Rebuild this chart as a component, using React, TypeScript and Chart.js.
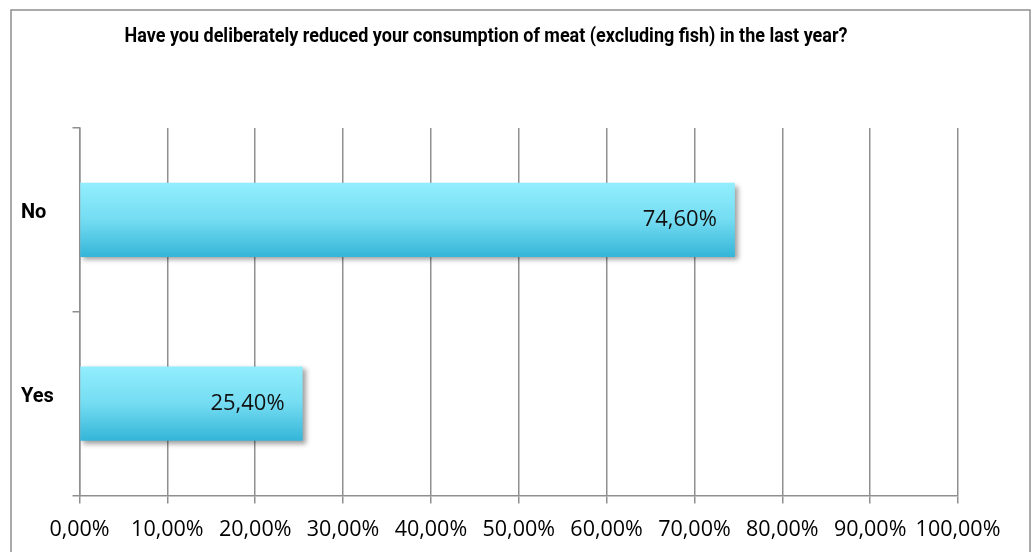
import React, { useEffect, useRef } from "react";
import { Chart, registerables } from "chart.js";

Chart.register(...registerables);

// Survey answers and their shares (percent)
const categories = ["No", "Yes"];
const shares = [74.6, 25.4];
const titleText =
  "Have you deliberately reduced your consumption of meat (excluding fish) in the last year?";
const axisMin = 0;
const axisMax = 100;
const axisStep = 10;

const BOLD = "Roboto, 'Liberation Sans', sans-serif";
const REGULAR = "'Open Sans', 'Noto Sans', sans-serif";
const GRID = "#8f8f8f";
const BAR_RATIO = 0.405;
const TITLE_WIDTH = 723;

const fmtPct = (v: number) => v.toFixed(2).replace(".", ",") + "%";

// Frame around the whole chart and a condensed title line
const framePlugin = {
  id: "frame",
  beforeDraw(chart: any) {
    const ctx = chart.ctx;
    ctx.save();
    ctx.fillStyle = "#ffffff";
    ctx.fillRect(0, 0, chart.width, chart.height);
    ctx.strokeStyle = GRID;
    ctx.lineWidth = 1.5;
    ctx.strokeRect(11, 10, 1019, chart.height + 20);
    ctx.fillStyle = "#000000";
    ctx.font = `bold 21px ${BOLD}`;
    ctx.textAlign = "center";
    ctx.textBaseline = "middle";
    const w = ctx.measureText(titleText).width;
    const sx = Math.min(1, TITLE_WIDTH / w);
    ctx.translate(486, 37);
    ctx.scale(sx, 1);
    ctx.fillText(titleText, 0, 0);
    ctx.restore();
  },
};

// Soft drop shadow behind the bars
const shadowPlugin = {
  id: "barShadow",
  beforeDatasetsDraw(chart: any) {
    const ctx = chart.ctx;
    ctx.save();
    ctx.shadowColor = "rgba(0,0,0,0.38)";
    ctx.shadowOffsetX = 3;
    ctx.shadowOffsetY = 3;
    ctx.shadowBlur = 5;
  },
  afterDatasetsDraw(chart: any) {
    chart.ctx.restore();
  },
};

// Value labels inside the end of each bar
const valueLabelPlugin = {
  id: "valueLabels",
  afterDatasetsDraw(chart: any) {
    const ctx = chart.ctx;
    const meta = chart.getDatasetMeta(0);
    ctx.save();
    ctx.fillStyle = "#111111";
    ctx.font = `22px ${REGULAR}`;
    ctx.textAlign = "right";
    ctx.textBaseline = "middle";
    meta.data.forEach((el: any, i: number) => {
      const v = chart.data.datasets[0].data[i] as number;
      ctx.fillText(fmtPct(v), el.x - 18, el.y);
    });
    ctx.restore();
  },
};

export default function App() {
  const ref = useRef<HTMLCanvasElement | null>(null);

  useEffect(() => {
    if (!ref.current) return;
    const chart = new Chart(ref.current, {
      type: "bar",
      data: {
        labels: categories,
        datasets: [
          {
            data: shares,
            categoryPercentage: 1,
            barPercentage: BAR_RATIO,
            borderWidth: 0,
            backgroundColor: (c: any) => {
              const ch = c.chart;
              const y = ch.scales?.y;
              if (!ch.chartArea || !y || c.type !== "data") return "#6fd8f0";
              const cy = y.getPixelForValue(c.dataIndex);
              const half = (y.height / categories.length) * BAR_RATIO / 2;
              const g = ch.ctx.createLinearGradient(0, cy - half, 0, cy + half);
              g.addColorStop(0, "#92eefd");
              g.addColorStop(0.5, "#74dcf2");
              g.addColorStop(1, "#34b5d8");
              return g;
            },
          },
        ],
      },
      options: {
        indexAxis: "y",
        responsive: false,
        animation: false,
        layout: { padding: { left: 21, top: 128, right: 76, bottom: 0 } },
        plugins: {
          legend: { display: false },
          title: { display: false },
          tooltip: { enabled: false },
        },
        scales: {
          x: {
            min: axisMin,
            max: axisMax,
            ticks: {
              stepSize: axisStep,
              padding: 13,
              maxRotation: 0,
              minRotation: 0,
              autoSkip: false,
              color: "#000000",
              font: { family: REGULAR, size: 21.5 },
              callback: (v: any) => fmtPct(Number(v)),
            },
            grid: { color: GRID, lineWidth: 1.5, tickLength: 8, drawTicks: true },
            border: { color: GRID, width: 1.5 },
            afterFit: (s: any) => {
              s.height = 56.5;
            },
          },
          y: {
            offset: true,
            ticks: {
              crossAlign: "far",
              labelOffset: -7,
              color: "#000000",
              font: { family: BOLD, size: 20, weight: "bold" },
            },
            grid: {
              offset: true,
              drawOnChartArea: false,
              drawTicks: true,
              tickLength: 7,
              color: GRID,
              lineWidth: 1.5,
            },
            border: { color: GRID, width: 1.5 },
            afterFit: (s: any) => {
              s.width = 58.5;
            },
          },
        },
      },
      plugins: [framePlugin, shadowPlugin, valueLabelPlugin],
    });
    return () => chart.destroy();
  }, []);

  return (
    <div style={{ position: "fixed", left: 0, top: 0, width: 1034, height: 552, background: "#fff" }}>
      <canvas ref={ref} width={1034} height={552} />
    </div>
  );
}
